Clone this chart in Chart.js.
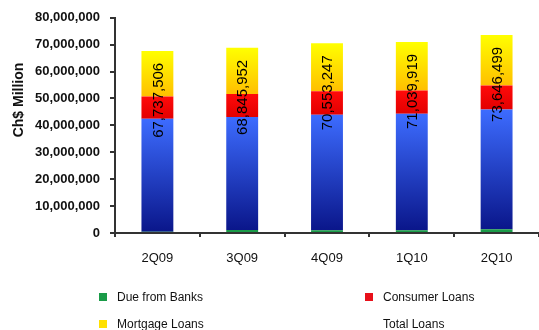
<!DOCTYPE html>
<html>
<head>
<meta charset="utf-8">
<script src="https://cdn.jsdelivr.net/npm/chart.js@4.4.1/dist/chart.umd.min.js"></script>
<style>
  html, body { margin: 0; padding: 0; background: #fff; }
  #wrap { position: relative; width: 539px; height: 330px; overflow: hidden; }
  #legend { position: absolute; left: 0; top: 0; width: 539px; height: 330px; pointer-events: none;
            font-family: "Liberation Sans", Arial, sans-serif; font-size: 12px; color: #111; }
  .item { position: absolute; white-space: nowrap; line-height: 14px; }
  .box { display: inline-block; width: 8px; height: 8px; margin-right: 10px; vertical-align: 0px; }
</style>
</head>
<body>
<div id="wrap">
  <canvas id="chart" width="539" height="330"></canvas>
  <div id="legend"></div>
</div>
<script>
// quarters on the x axis
const quarters = ['2Q09', '3Q09', '4Q09', '1Q10', '2Q10'];

// stacked pieces, Ch$
const dueFromBanks   = [500000, 1100000, 1000000, 1000000, 1400000];
const commercialLoans = [42000000, 42000000, 43000000, 43300000, 44500000];
const consumerLoans  = [8200000, 8600000, 8700000, 8700000, 8900000];
const mortgageLoans  = [17000000, 17150000, 17850000, 18050000, 18850000];

// labels written on the bars
const totalLoans = [67737506, 68845952, 70553247, 71039919, 73646499];

const yTicks = [0, 10000000, 20000000, 30000000, 40000000, 50000000, 60000000, 70000000, 80000000];

const FONT = '"Liberation Sans", Arial, sans-serif';

// vertical gradient for one bar segment
function segGradient(ctx, bottomColor, topColor, baseArr, valArr) {
    const chart = ctx.chart;
    const y = chart.scales.y;
    if (!y || ctx.dataIndex === undefined) return topColor;
    let base = 0;
    baseArr.forEach(a => { base += a[ctx.dataIndex]; });
    const y0 = y.getPixelForValue(base);
    const y1 = y.getPixelForValue(base + valArr[ctx.dataIndex]);
    if (!isFinite(y0) || !isFinite(y1)) return topColor;
    const g = chart.ctx.createLinearGradient(0, y0, 0, y1);
    g.addColorStop(0, bottomColor);
    g.addColorStop(1, topColor);
    return g;
}

const totalsLabels = {
    id: 'totalsLabels',
    afterDatasetsDraw(chart) {
        const ctx = chart.ctx;
        const meta = chart.getDatasetMeta(4);
        ctx.save();
        ctx.font = '15px ' + FONT;
        ctx.fillStyle = '#000';
        meta.data.forEach((pt, i) => {
            ctx.save();
            ctx.translate(pt.x, pt.y + 12);
            ctx.rotate(-Math.PI / 2);
            ctx.textAlign = 'right';
            ctx.textBaseline = 'middle';
            ctx.fillText(totalLoans[i].toLocaleString('en-US'), 0, 1);
            ctx.restore();
        });
        // y axis title
        ctx.font = 'bold 14px ' + FONT;
        ctx.fillStyle = '#111';
        ctx.translate(19, 100);
        ctx.rotate(-Math.PI / 2);
        ctx.textAlign = 'center';
        ctx.textBaseline = 'middle';
        ctx.fillText('Ch$ Million', 0, 0);
        ctx.restore();
    }
};

const datasets = [
    {
        label: 'Due from Banks',
        data: dueFromBanks,
        backgroundColor: '#1a9b48',
        legendColor: '#1a9b48'
    },
    {
        label: 'Commercial Loans',
        data: commercialLoans,
        backgroundColor: ctx => segGradient(ctx, '#0a168a', '#3d6cff', [dueFromBanks], commercialLoans),
        hideInLegend: true
    },
    {
        label: 'Consumer Loans',
        data: consumerLoans,
        backgroundColor: ctx => segGradient(ctx, '#e20000', '#ff0a0a', [dueFromBanks, commercialLoans], consumerLoans),
        legendColor: '#e8101a'
    },
    {
        label: 'Mortgage Loans',
        data: mortgageLoans,
        backgroundColor: ctx => segGradient(ctx, '#ffbf00', '#ffff00', [dueFromBanks, commercialLoans, consumerLoans], mortgageLoans),
        legendColor: '#ffe000'
    },
    {
        type: 'line',
        label: 'Total Loans',
        data: totalLoans,
        stack: 'totals',
        showLine: false,
        pointRadius: 0,
        borderWidth: 0,
        legendColor: null
    }
];

new Chart(document.getElementById('chart'), {
    type: 'bar',
    data: { labels: quarters, datasets: datasets },
    options: {
        responsive: false,
        animation: false,
        layout: { padding: { top: 17, right: 0, left: 0, bottom: 0 } },
        datasets: { bar: { categoryPercentage: 1, barPercentage: 0.376, stack: 'loans' } },
        plugins: { legend: { display: false }, tooltip: { enabled: false } },
        scales: {
            x: {
                stacked: true,
                afterFit: s => { s.height = 97; },
                border: { color: '#333', width: 2 },
                grid: { offset: true, drawOnChartArea: false, drawTicks: true, tickLength: 4, color: '#333', lineWidth: 2 },
                ticks: { padding: 14, color: '#111', font: { family: FONT, size: 13 } }
            },
            y: {
                stacked: true,
                min: 0,
                max: 80000000,
                afterFit: s => { s.width = 115; },
                afterBuildTicks: s => { s.ticks = yTicks.map(v => ({ value: v })); },
                border: { color: '#333', width: 2 },
                grid: { drawOnChartArea: false, drawTicks: true, tickLength: 5, color: '#333', lineWidth: 2 },
                ticks: {
                    padding: 10,
                    color: '#111',
                    font: { family: FONT, size: 13, weight: 'bold' },
                    callback: v => v.toLocaleString('en-US')
                }
            }
        }
    },
    plugins: [totalsLabels]
});

// two-column legend under the plot
const legendPos = [[99, 290], [365, 290], [99, 317], [365, 317]];
const legendEl = document.getElementById('legend');
datasets.filter(d => !d.hideInLegend).forEach((d, i) => {
    const item = document.createElement('div');
    item.className = 'item';
    item.style.left = legendPos[i][0] + 'px';
    item.style.top = legendPos[i][1] + 'px';
    const box = document.createElement('span');
    box.className = 'box';
    box.style.background = d.legendColor || 'transparent';
    item.appendChild(box);
    item.appendChild(document.createTextNode(d.label));
    legendEl.appendChild(item);
});
</script>
</body>
</html>
